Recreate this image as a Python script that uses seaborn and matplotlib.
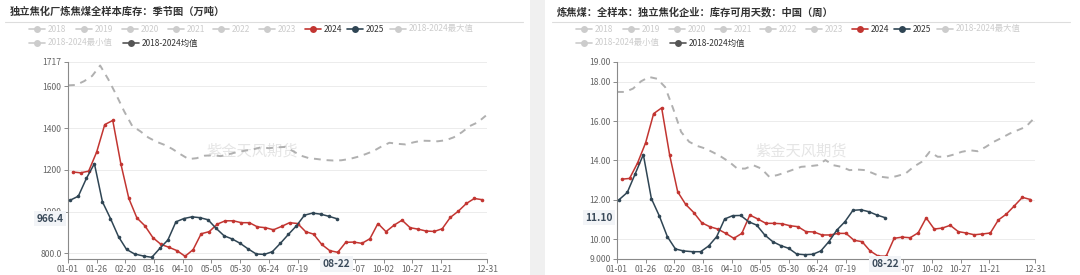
import numpy as np
import pandas as pd
import matplotlib
matplotlib.use("Agg")
import matplotlib.pyplot as plt
from matplotlib.lines import Line2D
from matplotlib.patches import Rectangle
import seaborn as sns

# ---------------- data ----------------
# left: 独立焦化厂炼焦煤全样本库存 (万吨)
inv_2024 = [1190, 1186, 1194, 1286, 1417, 1437, 1230, 1063, 970, 932, 875, 843, 829, 813,
            786, 818, 894, 904, 940, 956, 956, 947, 947, 927, 923, 913, 929, 947, 943, 904,
            892, 843, 813, 805, 853, 854, 848, 870, 943, 904, 935, 959, 923, 916, 907, 905,
            918, 972, 1002, 1039, 1063, 1057]
inv_2025 = [1055, 1074, 1159, 1230, 1047, 967, 880, 819, 797, 787, 781, 824, 864, 951, 967,
            975, 971, 961, 920, 884, 869, 848, 821, 797, 795, 808, 848, 891, 932, 983, 993,
            988, 978, 966.4]
inv_mean = [1605, 1607, 1625, 1650, 1700, 1635, 1560, 1480, 1410, 1385, 1355, 1335, 1320,
            1300, 1275, 1252, 1256, 1268, 1270, 1266, 1275, 1285, 1292, 1298, 1308, 1304,
            1308, 1310, 1290, 1268, 1256, 1252, 1247, 1245, 1246, 1252, 1262, 1275, 1290,
            1312, 1330, 1325, 1322, 1332, 1340, 1339, 1337, 1342, 1356, 1380, 1410, 1428, 1460]

# right: 炼焦煤 库存可用天数
days_2024 = [13.05, 13.09, 13.88, 14.90, 16.38, 16.67, 14.27, 12.41, 11.77, 11.36, 10.84,
             10.64, 10.52, 10.30, 10.05, 10.30, 11.23, 11.03, 10.81, 10.81, 10.79, 10.69,
             10.64, 10.39, 10.37, 10.22, 10.22, 10.30, 10.30, 9.95, 9.88, 9.41, 9.15, 9.14,
             10.05, 10.11, 10.08, 10.33, 11.09, 10.52, 10.57, 10.71, 10.39, 10.32, 10.23,
             10.27, 10.32, 10.98, 11.28, 11.70, 12.13, 12.02]
days_2025 = [12.02, 12.38, 13.34, 14.30, 12.07, 11.18, 10.13, 9.51, 9.41, 9.37, 9.37, 9.66,
             10.13, 11.03, 11.20, 11.21, 10.89, 10.72, 10.22, 9.88, 9.68, 9.54, 9.25, 9.22,
             9.24, 9.41, 9.88, 10.47, 10.89, 11.47, 11.50, 11.40, 11.23, 11.10]
days_mean = [17.48, 17.48, 17.65, 18.02, 18.24, 18.15, 17.73, 16.64, 15.45, 14.95, 14.74,
             14.61, 14.41, 14.19, 13.93, 13.59, 13.59, 13.76, 13.59, 13.17, 13.26, 13.39,
             13.54, 13.68, 13.71, 13.76, 14.02, 13.76, 13.68, 13.51, 13.54, 13.51, 13.34,
             13.17, 13.12, 13.22, 13.34, 13.68, 13.93, 14.44, 14.19, 14.19, 14.30, 14.44,
             14.52, 14.47, 14.69, 14.95, 15.15, 15.37, 15.54, 15.71, 16.13]

tick_labels = ["01-01", "01-26", "02-20", "03-16", "04-10", "05-05", "05-30", "06-24",
               "07-19", "09-07", "10-02", "10-27", "11-21", "12-31"]
highlight_date = "08-22"

legend_names = ["2018", "2019", "2020", "2021", "2022", "2023", "2024", "2025",
                "2018-2024最大值", "2018-2024最小值", "2018-2024均值"]

left_title = "独立焦化厂炼焦煤全样本库存：季节图（万吨）"
right_title = "炼焦煤：全样本：独立焦化企业：库存可用天数：中国（周）"
watermark = "紫金天风期货"

# ---------------- date positions (day of a leap-year axis) ----------------
def doy(md_list):
    return [pd.Timestamp("2024-" + md).dayofyear - 1 for md in md_list]

d24 = pd.date_range("2024-01-05", periods=len(inv_2024), freq="7D")
x24 = (d24.dayofyear - 1).tolist()
d25 = pd.date_range("2025-01-03", periods=len(inv_2025), freq="7D")
x25 = doy(d25.strftime("%m-%d").tolist())
dm = pd.date_range("2024-01-01", periods=len(inv_mean), freq="7D")
xm = (dm.dayofyear - 1).tolist()

# ---------------- style ----------------
sns.set_theme(style="white")
plt.rcParams["font.family"] = ["Noto Sans CJK SC", "DejaVu Sans"]

W, H = 1080, 275
fig = plt.figure(figsize=(W / 100, H / 100), dpi=100)
fig.patch.set_facecolor("white")

def fx(px):
    return px / W

def fy(py):
    return 1 - py / H

RED = "#c23531"
NAVY = "#2f4554"
MEANC = "#b0b0b0"
MEANLEG = "#555555"
OFF = "#cccccc"

# separator band between panels
fig.patches.append(Rectangle((fx(530), 0), fx(545) - fx(530), 1, transform=fig.transFigure,
                             facecolor="#f0f0f0", edgecolor="none", zorder=0))


def draw_panel(x0px, x1px, offset, title, y24, y25, ymean, ylim, yticks, ytl, hl_val, hl_text):
    ax = fig.add_axes([fx(x0px), fy(259), fx(x1px) - fx(x0px), fy(62) - fy(259)])
    ax.set_facecolor("white")
    sns.lineplot(x=xm, y=ymean, ax=ax, color=MEANC, linewidth=1.4, linestyle=(0, (3.5, 3)),
                 zorder=2)
    sns.lineplot(x=x24, y=y24, ax=ax, color=RED, linewidth=1.1, marker="o", markersize=2.6,
                 markeredgewidth=0, zorder=3)
    sns.lineplot(x=x25, y=y25, ax=ax, color=NAVY, linewidth=1.1, marker="o", markersize=2.6,
                 markeredgewidth=0, zorder=4)
    ax.set_xlim(0, 365)
    ax.set_ylim(*ylim)
    ax.set_xticks(doy(tick_labels))
    ax.set_xticklabels(tick_labels)
    ax.set_yticks(yticks)
    ax.set_yticklabels(ytl)
    ax.set_xlabel("")
    ax.set_ylabel("")
    for s in ["top", "right"]:
        ax.spines[s].set_visible(False)
    for s in ["left", "bottom"]:
        ax.spines[s].set_color("#8a8a8a")
        ax.spines[s].set_linewidth(0.8)
    ax.tick_params(axis="both", which="both", length=3, width=0.7, color="#8a8a8a",
                   labelsize=6.2, labelcolor="#666666", pad=1.5, bottom=True, left=True)
    ax.grid(axis="y", color="#ececec", linewidth=0.7)
    ax.grid(axis="x", visible=False)
    ax.set_axisbelow(True)

    # watermark
    ax.text(0.44, 0.55, watermark, transform=ax.transAxes, ha="center", va="center",
            fontsize=11, color="#dadada", alpha=0.7, zorder=1)

    # highlighted axis pointer labels
    hx = doy([highlight_date])[0]
    ax.text(hx, ylim[0], highlight_date, ha="center", va="top", fontsize=7.3, fontweight="bold",
            color="#3a4a5a", clip_on=False, zorder=10,
            transform=ax.get_xaxis_transform() if False else ax.transData,
            bbox=dict(boxstyle="square,pad=0.25", facecolor="#f2f4f7", edgecolor="none"))
    ax.annotate(hl_text, xy=(0, hl_val), xycoords=("axes fraction", "data"),
                xytext=(-3, 0), textcoords="offset points", ha="right", va="center",
                fontsize=7.3, fontweight="bold", color="#3a4a5a", annotation_clip=False,
                zorder=10,
                bbox=dict(boxstyle="square,pad=0.25", facecolor="#f2f4f7", edgecolor="none"))

    # title and separator
    fig.text(fx(10 + offset), fy(12), title, ha="left", va="center", fontsize=7.4,
             fontweight="bold", color="#333333")
    fig.add_artist(Line2D([fx(5 + offset), fx(523 + offset)], [fy(22), fy(22)],
                          transform=fig.transFigure, color="#dddddd", linewidth=0.8))

    # legend (manual, echarts-like)
    pos = [(29, 29), (76, 29), (122, 29), (168, 29), (213, 29), (259, 29), (305, 29),
           (347, 29), (390, 29), (29, 43), (123, 43)]
    colors = [OFF] * 6 + [RED, NAVY, OFF, OFF, MEANLEG]
    tcolors = [OFF] * 6 + ["#333333", "#333333", OFF, OFF, "#333333"]
    for name, (px, py), c, tc in zip(legend_names, pos, colors, tcolors):
        px = px + offset
        fig.add_artist(Line2D([fx(px), fx(px + 16)], [fy(py), fy(py)], transform=fig.transFigure,
                              color=c, linewidth=1.2))
        fig.add_artist(Line2D([fx(px + 8)], [fy(py)], transform=fig.transFigure, color=c,
                              marker="o", markersize=5, markeredgewidth=0, linestyle="none"))
        fig.text(fx(px + 19), fy(py), name, ha="left", va="center", fontsize=6, color=tc)
    return ax


draw_panel(68, 487, 0, left_title, inv_2024, inv_2025, inv_mean, (773, 1717),
           [800, 1000, 1200, 1400, 1600, 1717], ["800.0", "1000", "1200", "1400", "1600", "1717"],
           inv_2025[-1], "966.4")
draw_panel(617, 1035, 547, right_title, days_2024, days_2025, days_mean, (9, 19),
           [9, 10, 12, 14, 16, 18, 19],
           ["9.000", "10.00", "12.00", "14.00", "16.00", "18.00", "19.00"],
           days_2025[-1], "11.10")

fig.savefig("out.png", dpi=100, facecolor="white")
